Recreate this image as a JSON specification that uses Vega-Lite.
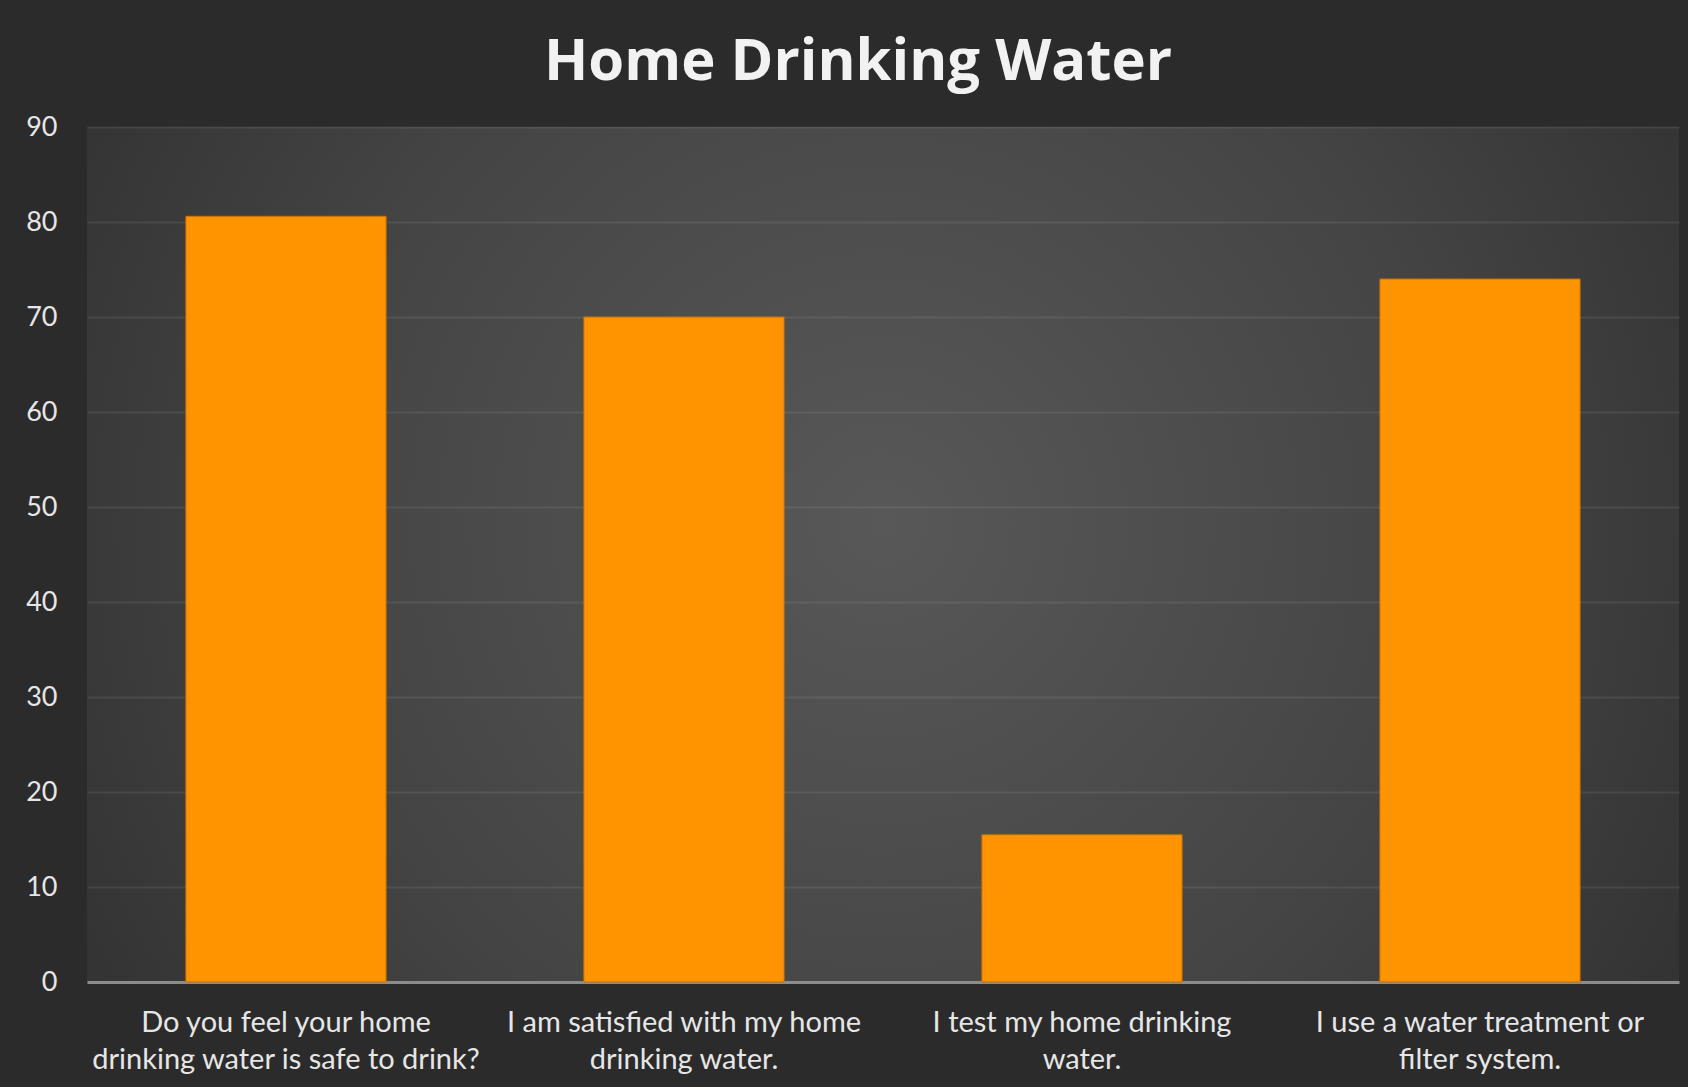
{
  "$schema": "https://vega.github.io/schema/vega-lite/v6.json",
  "autosize": {"type": "none"},
  "width": 1592,
  "height": 855,
  "padding": {"left": 87, "top": 127, "right": 9, "bottom": 105},
  "background": "#2b2b2b",
  "title": {
    "text": "Home Drinking Water",
    "font": "Open Sans",
    "fontSize": 58,
    "fontWeight": "bold",
    "color": "#f2f2f2",
    "anchor": "middle",
    "offset": 21,
    "dx": -25
  },
  "data": {
    "values": [
      {"question": "Do you feel your home\ndrinking water is safe to drink?", "percent": 80.6},
      {"question": "I am satisfied with my home\ndrinking water.", "percent": 70.0},
      {"question": "I test my home drinking\nwater.", "percent": 15.5},
      {"question": "I use a water treatment or\nfilter system.", "percent": 74.0}
    ]
  },
  "mark": {"type": "bar", "color": "#ff9400", "stroke": "#c47000", "strokeWidth": 1},
  "encoding": {
    "x": {
      "field": "question",
      "type": "nominal",
      "sort": null,
      "scale": {"paddingInner": 0.497, "paddingOuter": 0.2485},
      "axis": {
        "title": null,
        "labelAngle": 0,
        "labelExpr": "split(datum.label, '\\n')",
        "labelFont": "Lato",
        "labelFontSize": 29,
        "labelColor": "#e6e6e6",
        "labelLineHeight": 37,
        "labelPadding": 26,
        "labelLimit": 0,
        "ticks": false,
        "grid": false,
        "domain": true,
        "domainColor": "#8c8c8c",
        "domainWidth": 3
      }
    },
    "y": {
      "field": "percent",
      "type": "quantitative",
      "scale": {"domain": [0, 90]},
      "axis": {
        "title": null,
        "values": [0, 10, 20, 30, 40, 50, 60, 70, 80, 90],
        "labelFont": "Lato",
        "labelFontSize": 27,
        "labelColor": "#e6e6e6",
        "labelPadding": 30,
        "ticks": false,
        "domain": false,
        "grid": true,
        "gridColor": "#ffffff",
        "gridOpacity": 0.08,
        "gridWidth": 2
      }
    }
  },
  "config": {
    "view": {
      "stroke": null,
      "fill": {
        "gradient": "radial",
        "x1": 0.5, "y1": 0.48, "r1": 0,
        "x2": 0.5, "y2": 0.48, "r2": 0.72,
        "stops": [
          {"offset": 0, "color": "#585858"},
          {"offset": 0.5, "color": "#444444"},
          {"offset": 1, "color": "#282828"}
        ]
      }
    }
  }
}
